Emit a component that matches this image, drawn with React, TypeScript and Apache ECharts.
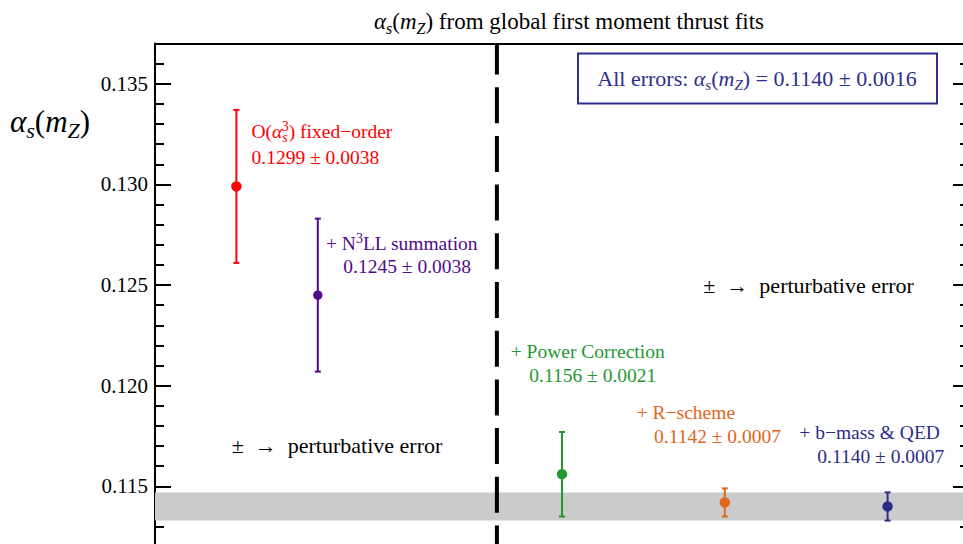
import React, { useEffect, useRef } from 'react';
import * as echarts from 'echarts';

const FONT = 'Liberation Serif';

// ---- data ----
const fitNames = [
  'O({i|α}{sub|s}{supk|3}) fixed−order',
  '+ N{sup|3}LL summation',
  '+ Power Correction',
  '+ R−scheme',
  '+ b−mass & QED',
];
const fitX = [1, 2, 5, 7, 9];
const fitValues = [0.1299, 0.1245, 0.1156, 0.1142, 0.114];
const fitErrors = [0.0038, 0.0038, 0.0021, 0.0007, 0.0007];
const fitColors = ['#ff0000', '#520a8a', '#21992f', '#e0661c', '#2c2c88'];
const bandLow = [0.1133];
const bandHigh = [0.1147];
const totalValue = [0.114];
const totalError = [0.0016];
const dividerX = [4.2];
const xRange = [0, 10];
const yRange = [0.11, 0.137];
const yMajorStep = 0.005;
const yMinorStep = 0.001;
const pertNote = '±  →  perturbative error';

// ---- layout (pixels) ----
const nameLabelPos = [
  [251.5, 131.5],
  [326, 243.5],
  [510.7, 351.7],
  [636.7, 412.5],
  [799.3, 432.5],
];
const valueLabelPos = [
  [251.5, 157.5],
  [343.3, 266.5],
  [529.3, 375.3],
  [654, 436.3],
  [817.3, 456.3],
];
const notePos = [
  [231.7, 445.5],
  [703.3, 285.3],
];

function makeRich(fs: number, color: string) {
  const L = Math.round(fs * 1.3);
  const fsSub = Math.round(fs * 0.7);
  const base = { fontFamily: FONT, fill: color, color };
  return {
    lineHeight: L,
    rich: {
      i: { ...base, fontSize: fs, fontStyle: 'italic', lineHeight: L },
      sub: { ...base, fontSize: fsSub, fontStyle: 'italic', lineHeight: fs * 0.66, verticalAlign: 'bottom' },
      sup: { ...base, fontSize: fsSub, fontStyle: 'normal', lineHeight: fs * 0.74, verticalAlign: 'top' },
      supk: {
        ...base,
        fontSize: fsSub,
        fontStyle: 'normal',
        lineHeight: fs * 0.74,
        verticalAlign: 'top',
        padding: [0, 0, 0, -Math.round(fsSub * 0.42)],
      },
    },
  };
}

function textEl(text: string, x: number, y: number, fs: number, color: string, align = 'left') {
  const r = makeRich(fs, color);
  return {
    type: 'text',
    x,
    y,
    z: 100,
    silent: true,
    style: {
      text,
      fontFamily: FONT,
      fontSize: fs,
      fill: color,
      align,
      verticalAlign: 'middle',
      lineHeight: r.lineHeight,
      rich: r.rich,
    },
  };
}

const fmt = (v: number) => v.toFixed(4);

export default function App() {
  const ref = useRef<HTMLDivElement>(null);
  useEffect(() => {
    if (!ref.current) return;
    const chart = echarts.init(ref.current, undefined, { renderer: 'svg' });

    const graphics: any[] = [];
    graphics.push(
      textEl('{i|α}{sub|s}({i|m}{sub|Z}) from global first moment thrust fits', 569, 21, 23, '#000', 'center')
    );
    graphics.push(textEl('{i|α}{sub|s}({i|m}{sub|Z})', 10, 121, 31, '#000'));
    graphics.push({
      type: 'rect',
      z: 99,
      silent: true,
      shape: { x: 578, y: 53.5, width: 359, height: 50 },
      style: { fill: '#fff', stroke: '#2e2e8e', lineWidth: 2 },
    });
    graphics.push(
      textEl(
        `All errors: {i|α}{sub|s}({i|m}{sub|Z}) = ${fmt(totalValue[0])} ± ${fmt(totalError[0])}`,
        757,
        78.3,
        22,
        '#2e2e8e',
        'center'
      )
    );
    fitNames.forEach((n, i) => {
      graphics.push(textEl(n, nameLabelPos[i][0], nameLabelPos[i][1], 19.5, fitColors[i]));
      graphics.push(
        textEl(`${fmt(fitValues[i])} ± ${fmt(fitErrors[i])}`, valueLabelPos[i][0], valueLabelPos[i][1], 19.5, fitColors[i])
      );
    });
    notePos.forEach((p) => graphics.push(textEl(pertNote, p[0], p[1], 22, '#000')));

    const axisBlack = { color: '#000', width: 2 };
    const yBase = { type: 'value', min: yRange[0], max: yRange[1], splitLine: { show: false } };

    chart.setOption({
      animation: false,
      grid: { left: 155, right: 6, top: 43.5, bottom: 13 },
      xAxis: {
        type: 'value',
        position: 'top',
        min: xRange[0],
        max: xRange[1],
        axisLine: { show: true, lineStyle: axisBlack },
        axisTick: { show: false },
        axisLabel: { show: false },
        splitLine: { show: false },
      },
      yAxis: [
        {
          ...yBase,
          position: 'left',
          interval: yMajorStep,
          axisLine: { show: true, lineStyle: axisBlack },
          axisTick: { show: true, inside: true, length: 16, lineStyle: axisBlack },
          axisLabel: {
            show: true,
            margin: 7,
            fontSize: 21,
            fontFamily: FONT,
            color: '#000',
            showMaxLabel: false,
            showMinLabel: false,
            formatter: (v: number) =>
              Math.abs(v / yMajorStep - Math.round(v / yMajorStep)) < 1e-6 ? v.toFixed(3) : '',
          },
        },
        {
          ...yBase,
          position: 'left',
          interval: yMinorStep,
          axisLine: { show: false },
          axisTick: { show: true, inside: true, length: 9, lineStyle: axisBlack },
          axisLabel: { show: false },
        },
        {
          ...yBase,
          position: 'right',
          interval: yMajorStep,
          axisLine: { show: true, lineStyle: axisBlack },
          axisTick: { show: true, inside: true, length: 16, lineStyle: axisBlack },
          axisLabel: { show: false },
        },
        {
          ...yBase,
          position: 'right',
          interval: yMinorStep,
          axisLine: { show: false },
          axisTick: { show: true, inside: true, length: 9, lineStyle: axisBlack },
          axisLabel: { show: false },
        },
      ],
      series: [
        {
          type: 'line',
          z: 1,
          silent: true,
          showSymbol: false,
          symbol: 'none',
          lineStyle: { width: 0, opacity: 0 },
          data: [
            [xRange[0], totalValue[0]],
            [xRange[1], totalValue[0]],
          ],
          markArea: {
            silent: true,
            itemStyle: { color: '#cbcbcb' },
            data: [[{ xAxis: xRange[0], yAxis: bandLow[0] }, { xAxis: xRange[1], yAxis: bandHigh[0] }]],
          },
        },
        {
          type: 'line',
          z: 3,
          silent: true,
          symbol: 'none',
          lineStyle: { color: '#000', width: 4, type: [36, 12.7], dashOffset: 5, cap: 'butt' },
          data: [
            [dividerX[0], yRange[1]],
            [dividerX[0], yRange[0]],
          ],
        },
        {
          type: 'custom',
          z: 4,
          silent: true,
          encode: { x: 0, y: 1 },
          data: fitX.map((x, i) => [x, fitValues[i], fitErrors[i]]),
          renderItem: (params: any, api: any) => {
            const x = api.value(0);
            const y = api.value(1);
            const e = api.value(2);
            const top = api.coord([x, y + e]);
            const bot = api.coord([x, y - e]);
            const c = api.coord([x, y]);
            const color = fitColors[params.dataIndex];
            const r = params.dataIndex === 1 ? 4.7 : 5.2;
            const st = { stroke: color, lineWidth: 2 };
            return {
              type: 'group',
              children: [
                { type: 'line', shape: { x1: top[0], y1: top[1], x2: bot[0], y2: bot[1] }, style: st },
                { type: 'line', shape: { x1: top[0] - 3, y1: top[1], x2: top[0] + 3, y2: top[1] }, style: st },
                { type: 'line', shape: { x1: bot[0] - 3, y1: bot[1], x2: bot[0] + 3, y2: bot[1] }, style: st },
                { type: 'circle', shape: { cx: c[0], cy: c[1], r }, style: { fill: color } },
              ],
            };
          },
        },
      ],
      graphic: graphics,
    });
    return () => chart.dispose();
  }, []);

  return (
    <div
      style={{
        position: 'fixed',
        left: 0,
        top: 0,
        width: 963,
        height: 544,
        overflow: 'hidden',
        background: '#fff',
      }}
    >
      <div ref={ref} style={{ width: 975, height: 600 }} />
    </div>
  );
}
